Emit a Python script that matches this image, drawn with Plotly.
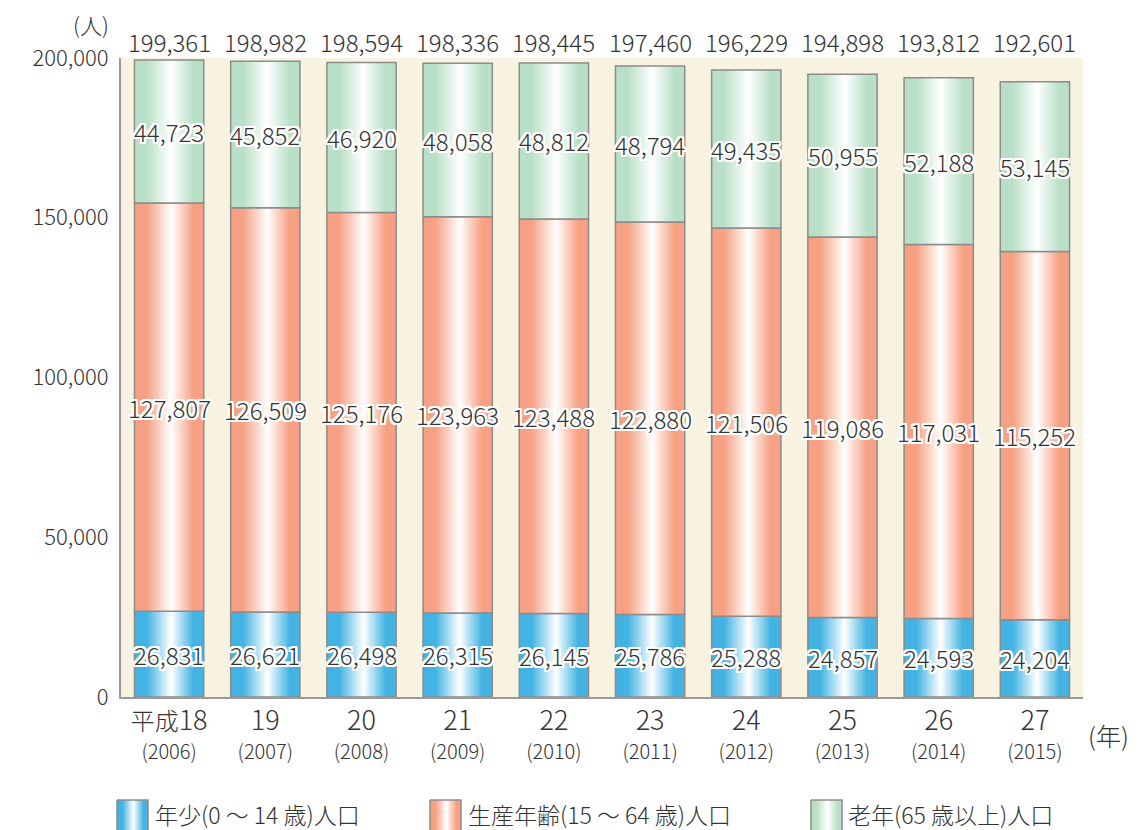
import plotly.graph_objects as go

years_jp = ["平成18", "19", "20", "21", "22", "23", "24", "25", "26", "27"]
years_ad = ["2006", "2007", "2008", "2009", "2010", "2011", "2012", "2013", "2014", "2015"]
young = [26831, 26621, 26498, 26315, 26145, 25786, 25288, 24857, 24593, 24204]
working = [127807, 126509, 125176, 123963, 123488, 122880, 121506, 119086, 117031, 115252]
elderly = [44723, 45852, 46920, 48058, 48812, 48794, 49435, 50955, 52188, 53145]
totals = [199361, 198982, 198594, 198336, 198445, 197460, 196229, 194898, 193812, 192601]

series_names = ["年少(0 ～ 14 歳)人口", "生産年齢(15 ～ 64 歳)人口", "老年(65 歳以上)人口"]
series_vals = [young, working, elderly]
edge_colors = ["#43B3E3", "#F6A184", "#B9E0C7"]

FONT = "Noto Sans CJK JP"
TXT = "#333333"
W = 300
half = 0.36
OUTLINE = "#8C8C8C"
HALO = ", ".join(f"{dx}px {dy}px 0 #fff" for dx in (-2, -1, 0, 1, 2) for dy in (-2, -1, 0, 1, 2) if (dx, dy) != (0, 0))

# page coordinates of the plotting region (browser body adds an 8px offset)
PX_L, PX_R, PX_T, PX_B = 100, 1089, 58, 830
PW, PH = PX_R - PX_L, PX_B - PX_T


def px(xp):
    return (xp - PX_L) / PW


def py(yp):
    return (PX_B - yp) / PH


def grad(col):
    return [[0, col], [0.18, col], [0.53, "#FFFFFF"], [0.85, col], [1, col]]


fig = go.Figure()

fig.add_shape(type="rect", xref="x domain", yref="y domain", x0=0, x1=1, y0=0, y1=1,
              fillcolor="#F8F2E1", line_width=0, layer="below")

bases = [0] * len(years_jp)
for name, vals, col in zip(series_names, series_vals, edge_colors):
    for i, v in enumerate(vals):
        y0 = bases[i]
        y1 = y0 + v
        fig.add_trace(go.Scatter(
            x=[i - half, i + half, i + half, i - half, i - half],
            y=[y0, y0, y1, y1, y0],
            mode="lines", fill="toself",
            fillgradient=dict(type="horizontal", colorscale=grad(col)),
            line=dict(color=OUTLINE, width=1.5),
            name=name, showlegend=False, hoverinfo="skip",
        ))
        fig.add_annotation(
            x=i, y=(y0 + y1) / 2, text=f"{v:,}", showarrow=False,
            font=dict(family=FONT, size=24, color=TXT, weight=W, shadow=HALO),
        )
        bases[i] = y1

for i, t in enumerate(totals):
    fig.add_annotation(x=i, y=py(42), yref="paper", yanchor="middle", xanchor="center",
                       text=f"{t:,}", showarrow=False,
                       font=dict(family=FONT, size=24, color=TXT, weight=W))

fig.add_annotation(x=px(91), xref="paper", xanchor="center", y=py(24), yref="paper", yanchor="middle",
                   text="(人)", showarrow=False, borderpad=0,
                   font=dict(family=FONT, size=22, color=TXT, weight=W))
fig.add_annotation(x=px(1086), xref="paper", xanchor="left", y=py(735), yref="paper", yanchor="middle",
                   text="(年)", showarrow=False, font=dict(family=FONT, size=25, color=TXT, weight=W))

# custom legend (gradient swatches) drawn in a pixel-scaled helper subplot
legend_swatch_x = [117, 430, 811]
legend_text_x = [153, 466, 846]
for name, col, sx, tx in zip(series_names, edge_colors, legend_swatch_x, legend_text_x):
    fig.add_trace(go.Scatter(
        x=[sx, sx + 31, sx + 31, sx, sx], y=[800, 800, 832, 832, 800],
        xaxis="x2", yaxis="y2", mode="lines", fill="toself",
        fillgradient=dict(type="horizontal", colorscale=grad(col)),
        line=dict(color=OUTLINE, width=1.5), showlegend=False, hoverinfo="skip",
    ))
    fig.add_annotation(x=tx, y=814, xref="x2", yref="y2", xanchor="left", yanchor="middle", text=name,
                       showarrow=False, font=dict(family=FONT, size=23, color=TXT, weight=W))

ticktext = [
    (f"<span style='font-size:24px'>{a[:-2]}</span>" if len(a) > 2 else "")
    + f"<span style='font-size:27px'>{a[-2:]}</span>"
    + f"<br><span style='font-size:20px'>({b})</span>"
    for a, b in zip(years_jp, years_ad)
]

fig.update_layout(
    width=1131, height=822,
    margin=dict(l=92, r=50, t=50, b=0, autoexpand=False),
    paper_bgcolor="white",
    plot_bgcolor="rgba(0,0,0,0)",
    font=dict(family=FONT, color=TXT),
    showlegend=False,
    xaxis=dict(domain=[px(121), px(1083)], anchor="y",
               range=[-0.5, 9.5], tickmode="array", tickvals=list(range(10)), ticktext=ticktext,
               showgrid=False, zeroline=False, showline=True, linecolor="#9A9A9A", linewidth=2,
               ticks="", ticklabelstandoff=5, automargin=False,
               tickfont=dict(family=FONT, size=22, color=TXT, weight=W), fixedrange=True),
    yaxis=dict(domain=[py(697), 1], anchor="x",
               range=[0, 200000], tickvals=[0, 50000, 100000, 150000, 200000],
               ticktext=["0", "50,000", "100,000", "150,000", "200,000"],
               showgrid=False, zeroline=False, showline=True, linecolor="#9A9A9A", linewidth=2,
               ticks="", ticklabelstandoff=6, automargin=False,
               tickfont=dict(family=FONT, size=22, color=TXT, weight=W), fixedrange=True),
    xaxis2=dict(domain=[0, 1], anchor="y2", range=[PX_L, PX_R], visible=False, fixedrange=True),
    yaxis2=dict(domain=[0, 0.1], anchor="x2", range=[PX_B, PX_B - 0.1 * PH], visible=False, fixedrange=True),
)

fig.write_html("out.html")
